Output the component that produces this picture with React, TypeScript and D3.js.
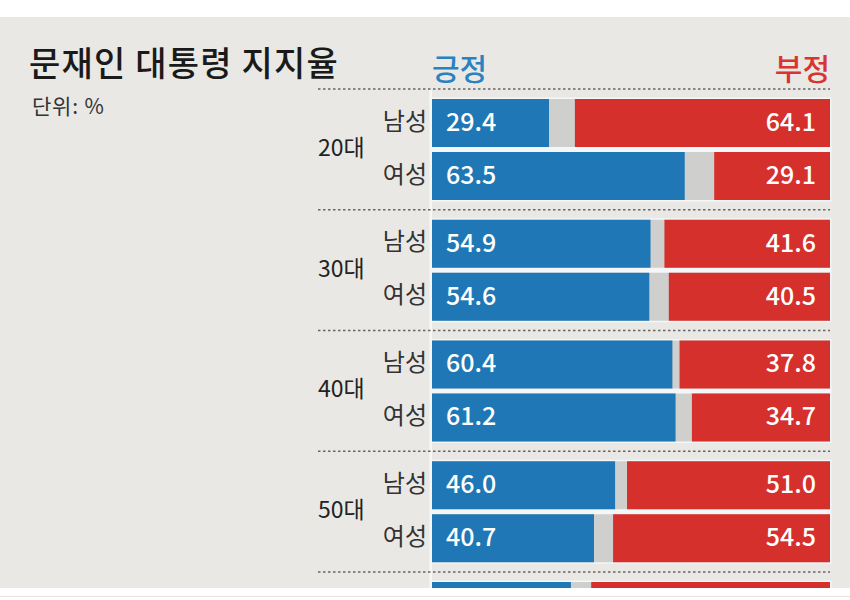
import React from "react";
import * as d3 from "d3";

const ages = ["20대", "30대", "40대", "50대", "60대"];
const sexes = ["남성", "여성"];
// positive (긍정) and negative (부정) per age, [남성, 여성]
const positive = [
  [29.4, 63.5],
  [54.9, 54.6],
  [60.4, 61.2],
  [46.0, 40.7],
  [34.9, 34.9],
];
const negative = [
  [64.1, 29.1],
  [41.6, 40.5],
  [37.8, 34.7],
  [51.0, 54.5],
  [60.0, 60.0],
];

const W = 850;
const H = 600;
const BLUE = "#1f78b5";
const RED = "#d6302c";
const GRAY = "#cfcfcd";
const BG = "#e9e8e4";
const FONT = "'Noto Sans CJK KR', 'Noto Sans', sans-serif";

export default function App() {
  const x = d3.scaleLinear().domain([0, 100]).range([432, 830]);
  const yGroup = d3.scaleBand<string>().domain(ages).range([89, 89 + ages.length * 120.75]).paddingInner(0);
  const yRow = d3.scaleBand<string>().domain(sexes).range([10, 111]).paddingInner(0.0943).paddingOuter(0);
  const panelBottom = 588;

  return (
    <svg width={W} height={H} style={{ position: "absolute", left: 0, top: 0 }} fontFamily={FONT}>
      <rect x={0} y={0} width={W} height={H} fill="#ffffff" />
      <rect x={0} y={17} width={W} height={panelBottom - 17} fill={BG} />
      <line x1={0} x2={W} y1={596.5} y2={596.5} stroke="#e2e2e2" strokeWidth={1} />
      <defs>
        <clipPath id="panel">
          <rect x={0} y={17} width={W} height={panelBottom - 17} />
        </clipPath>
      </defs>

      <text x={29} y={76} fontSize={34} fontWeight={500} fill="#1a1a1a" letterSpacing={1.2}>
        문재인 대통령 지지율
      </text>
      <text x={32} y={114} fontSize={21} fill="#333" letterSpacing={0.8}>
        단위: %
      </text>
      <text x={x(0)} y={80} fontSize={30} fontWeight={500} fill="#2a82c0">
        긍정
      </text>
      <text x={x(100)} y={80} fontSize={30} fontWeight={500} fill="#d9342f" textAnchor="end">
        부정
      </text>

      <g clipPath="url(#panel)">
        <rect x={429.5} y={89} width={2.5} height={panelBottom - 89} fill="#f7f7f5" />
        {ages.map((age, gi) => {
          const g0 = yGroup(age)!;
          const rTop = g0 + yRow(sexes[0])!;
          const rBot = g0 + yRow(sexes[1])! + yRow.bandwidth();
          const groupVisible = rBot <= panelBottom;
          return (
            <g key={age}>
              <line x1={318} x2={x(100)} y1={g0} y2={g0} stroke="#666" strokeWidth={1.5} strokeDasharray="2.5,2.5" />
              <rect x={x(0) - 1.5} y={rTop - 1.5} width={x(100) - x(0) + 3} height={rBot - rTop + 3} fill="#f4f6f7" />
              {groupVisible && (
                <text x={318} y={(rTop + rBot) / 2} fontSize={23} fill="#222" dominantBaseline="middle">
                  {age}
                </text>
              )}
              {sexes.map((sex, si) => {
                const y0 = g0 + yRow(sex)!;
                const h = yRow.bandwidth();
                const p = positive[gi][si];
                const n = negative[gi][si];
                const cy = y0 + h / 2;
                const rowVisible = y0 + h <= panelBottom;
                return (
                  <g key={sex}>
                    <rect x={x(0)} y={y0} width={x(100) - x(0)} height={h} fill={GRAY} />
                    <rect x={x(0)} y={y0} width={x(p) - x(0)} height={h} fill={BLUE} />
                    <rect x={x(100 - n)} y={y0} width={x(100) - x(100 - n)} height={h} fill={RED} />
                    {rowVisible && (
                      <>
                        <text x={427} y={cy} fontSize={24} fill="#333" textAnchor="end" dominantBaseline="middle">
                          {sex}
                        </text>
                        <text x={x(0) + 14} y={cy + 1} fontSize={25} fontWeight={500} fill="#ffffff" dominantBaseline="middle">
                          {p.toFixed(1)}
                        </text>
                        <text x={x(100) - 14} y={cy + 1} fontSize={25} fontWeight={500} fill="#ffffff" textAnchor="end" dominantBaseline="middle">
                          {n.toFixed(1)}
                        </text>
                      </>
                    )}
                  </g>
                );
              })}
            </g>
          );
        })}
      </g>
    </svg>
  );
}
